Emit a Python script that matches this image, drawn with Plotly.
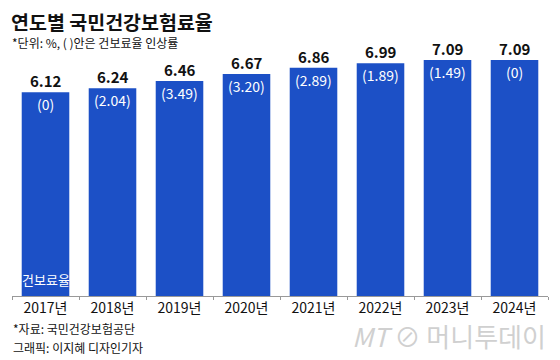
import plotly.graph_objects as go

years = ["2017년", "2018년", "2019년", "2020년", "2021년", "2022년", "2023년", "2024년"]
rates = [6.12, 6.24, 6.46, 6.67, 6.86, 6.99, 7.09, 7.09]
increases = ["(0)", "(2.04)", "(3.49)", "(3.20)", "(2.89)", "(1.89)", "(1.49)", "(0)"]

FONT = "Noto Sans CJK KR"
BLUE = "#1c50c6"

fig = go.Figure()
fig.add_trace(go.Bar(x=years, y=rates, marker_color=BLUE, marker_line_width=0,
                     hoverinfo="skip"))

for yr, v, inc in zip(years, rates, increases):
    fig.add_annotation(x=yr, y=v, text=f"<b>{v:.2f}</b>", showarrow=False,
                       yanchor="bottom", yshift=-1,
                       font=dict(family=FONT, size=15, color="#111111"))
    fig.add_annotation(x=yr, y=v, text=inc, showarrow=False,
                       yanchor="top", yshift=0,
                       font=dict(family=FONT, size=14, color="white"))

fig.add_annotation(x=years[0], y=0, text="건보료율", showarrow=False,
                   yanchor="bottom", yshift=5,
                   font=dict(family=FONT, size=13, color="white"))

fig.update_layout(
    width=552, height=352,
    margin=dict(l=4, r=12, t=42, b=64),
    paper_bgcolor="white", plot_bgcolor="white",
    bargap=0.29, showlegend=False,
    font=dict(family=FONT),
    xaxis=dict(showline=True, linecolor="#999999", linewidth=1,
               ticks="outside", tickson="boundaries", ticklen=3, tickcolor="#999999",
               ticklabelstandoff=-1,
               tickfont=dict(family=FONT, size=14, color="#111111"),
               fixedrange=True),
    yaxis=dict(range=[0, 7.39], visible=False, fixedrange=True),
)

fig.add_annotation(xref="paper", yref="paper", x=0, y=1.0, xanchor="left", yanchor="middle",
                   yshift=29, xshift=-2, borderpad=0, text="<b>연도별 국민건강보험료율</b>", showarrow=False,
                   font=dict(family=FONT, size=19.5, color="#111111"))
fig.add_annotation(xref="paper", yref="paper", x=0, y=1.0, xanchor="left", yanchor="middle",
                   yshift=7.5, xshift=-1, borderpad=0, text="*단위: %, ( )안은 건보료율 인상률", showarrow=False,
                   font=dict(family=FONT, size=12, color="#111111"))
fig.add_annotation(xref="paper", yref="paper", x=0, y=0, xanchor="left", yanchor="middle",
                   yshift=-32, xshift=-1, text="*자료: 국민건강보험공단", showarrow=False,
                   font=dict(family=FONT, size=12, color="#111111"))
fig.add_annotation(xref="paper", yref="paper", x=0, y=0, xanchor="left", yanchor="middle",
                   yshift=-51, xshift=-1, text="그래픽: 이지혜 디자인기자", showarrow=False,
                   font=dict(family=FONT, size=12, color="#111111"))
fig.add_annotation(xref="paper", yref="paper", x=1.0, y=0, xanchor="right", yanchor="middle",
                   yshift=-39, text="<i>MT</i> ⊘ 머니투데이", showarrow=False,
                   font=dict(family=FONT, size=26, color="#d0d0d0"))

fig.write_html("out.html")
